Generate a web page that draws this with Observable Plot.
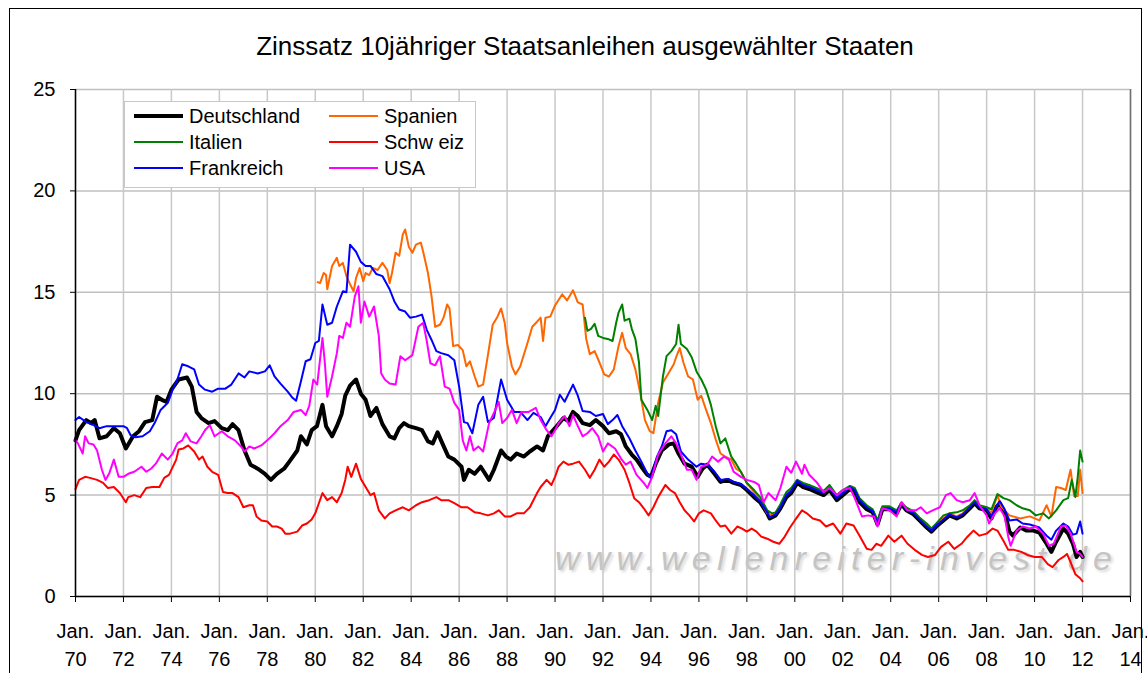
<!DOCTYPE html>
<html>
<head>
<meta charset="utf-8">
<script src="https://cdn.jsdelivr.net/npm/d3@7"></script>
<script src="https://cdn.jsdelivr.net/npm/@observablehq/plot@0.6"></script>
<style>
  html, body { margin: 0; padding: 0; background: #fff; }
  body { width: 1147px; height: 673px; overflow: hidden; position: relative; font-family: "Liberation Sans", Arial, sans-serif; }
  #frame { position: absolute; left: 9px; top: 8px; width: 1133px; height: 700px; border: 1px solid #000; box-sizing: border-box; z-index: 5; pointer-events: none; }
  #title { position: absolute; left: 0; top: 31px; width: 1170px; text-align: center; font-size: 26px; color: #000; z-index: 3; }
  #wm { position: absolute; left: 555px; top: 539px; font-size: 34px; font-style: italic; letter-spacing: 6.2px; color: #c4c4c4; text-shadow: 2px 2px 3px #d8d8d8; z-index: 0; white-space: nowrap; }
  #chart { position: absolute; left: 0; top: 0; z-index: 1; }
  #legend { position: absolute; left: 124px; top: 101px; width: 352px; height: 87px; border: 1px solid #c8c8c8; background: #fff; box-sizing: border-box; z-index: 4; }
  .item { position: absolute; font-size: 20px; line-height: 20px; color: #000; white-space: nowrap; }
  .item svg { position: absolute; left: 0; top: 0; }
  .item span { position: absolute; top: 0; }
</style>
</head>
<body>
<div id="frame"></div>
<div id="wm">www.wellenreiter-invest.de</div>
<div id="chart"></div>
<div id="title">Zinssatz 10jähriger Staatsanleihen ausgewählter Staaten</div>
<div id="legend"></div>
<script>
// ---- Data (decimal year, yield in %) ----
const deT = [1970.0,1970.15,1970.45,1970.65,1970.8,1971.0,1971.3,1971.6,1971.85,1972.1,1972.4,1972.65,1972.9,1973.2,1973.4,1973.6,1973.8,1974.0,1974.3,1974.65,1974.85,1975.05,1975.25,1975.55,1975.8,1976.1,1976.35,1976.55,1976.8,1977.05,1977.3,1977.6,1977.9,1978.15,1978.4,1978.7,1978.95,1979.25,1979.4,1979.65,1979.85,1980.07,1980.3,1980.45,1980.7,1980.9,1981.1,1981.25,1981.45,1981.7,1981.9,1982.1,1982.3,1982.55,1982.8,1983.1,1983.3,1983.5,1983.7,1983.9,1984.2,1984.45,1984.7,1984.9,1985.1,1985.3,1985.55,1985.8,1986.1,1986.2,1986.4,1986.65,1986.9,1987.25,1987.45,1987.75,1987.95,1988.15,1988.4,1988.7,1988.95,1989.25,1989.5,1989.7,1990.0,1990.35,1990.55,1990.75,1990.95,1991.15,1991.45,1991.7,1992.0,1992.25,1992.55,1992.75,1992.95,1993.2,1993.4,1993.6,1993.85,1994.0,1994.2,1994.45,1994.75,1994.95,1995.15,1995.4,1995.7,1995.95,1996.15,1996.35,1996.65,1996.9,1997.2,1997.45,1997.75,1998.0,1998.3,1998.55,1998.85,1998.95,1999.2,1999.4,1999.65,1999.85,2000.1,2000.35,2000.6,2000.9,2001.2,2001.45,2001.75,2002.0,2002.3,2002.5,2002.7,2003.0,2003.25,2003.45,2003.65,2003.95,2004.25,2004.45,2004.65,2004.95,2005.2,2005.5,2005.7,2005.9,2006.2,2006.45,2006.75,2007.0,2007.3,2007.5,2007.7,2008.0,2008.2,2008.4,2008.55,2008.75,2008.95,2009.1,2009.4,2009.65,2009.95,2010.2,2010.5,2010.7,2010.9,2011.2,2011.4,2011.6,2011.75,2011.9,2012.0];
const deV = [7.7,8.2,8.7,8.55,8.7,7.8,7.9,8.3,8.05,7.3,7.9,8.15,8.6,8.7,9.85,9.7,9.6,10.2,10.7,10.8,10.35,9.1,8.8,8.55,8.65,8.3,8.2,8.5,8.2,7.2,6.5,6.3,6.05,5.75,6.05,6.3,6.7,7.2,7.9,7.5,8.2,8.4,9.45,8.4,7.9,8.4,9.0,9.9,10.4,10.7,10.0,9.7,8.9,9.3,8.5,7.9,7.8,8.3,8.55,8.4,8.3,8.2,7.65,7.55,8.1,7.55,6.9,6.75,6.4,5.75,6.25,6.05,6.4,5.75,6.25,7.2,6.9,6.75,7.05,6.9,7.15,7.4,7.2,7.9,8.3,8.8,8.65,9.1,8.9,8.55,8.45,8.7,8.4,8.05,8.15,8.0,7.4,7.0,6.75,6.4,6.0,5.9,6.55,7.2,7.5,7.55,7.05,6.55,6.4,5.9,6.3,6.5,6.05,5.65,5.75,5.6,5.5,5.25,4.9,4.65,4.1,3.85,4.0,4.35,4.9,5.1,5.6,5.4,5.3,5.15,5.0,5.25,4.75,5.0,5.3,5.15,4.65,4.3,4.15,3.55,4.3,4.3,4.1,4.55,4.25,4.05,3.75,3.4,3.2,3.45,3.75,4.0,3.85,4.0,4.35,4.6,4.35,4.25,3.85,4.4,4.6,4.15,3.2,3.0,3.4,3.25,3.25,3.15,2.6,2.2,2.7,3.35,3.1,2.6,1.95,2.2,1.95];

const esT = [1980.1,1980.2,1980.35,1980.45,1980.5,1980.7,1980.9,1981.0,1981.15,1981.3,1981.45,1981.6,1981.7,1981.85,1982.0,1982.1,1982.25,1982.4,1982.6,1982.8,1983.0,1983.1,1983.2,1983.35,1983.5,1983.65,1983.75,1983.9,1984.05,1984.2,1984.4,1984.5,1984.7,1984.85,1985.0,1985.2,1985.35,1985.5,1985.6,1985.75,1985.95,1986.15,1986.3,1986.45,1986.65,1986.8,1987.0,1987.2,1987.4,1987.6,1987.75,1987.9,1988.0,1988.2,1988.35,1988.55,1988.85,1989.05,1989.25,1989.4,1989.5,1989.6,1989.8,1990.0,1990.3,1990.5,1990.75,1990.95,1991.15,1991.3,1991.45,1991.65,1991.85,1992.05,1992.25,1992.45,1992.65,1992.8,1992.95,1993.15,1993.35,1993.55,1993.75,1993.95,1994.1,1994.3,1994.5,1994.75,1994.95,1995.05,1995.2,1995.35,1995.55,1995.75,1995.95,1996.1,1996.3,1996.5,1996.7,1996.9,1997.1,1997.35,1997.55,1997.75,1998.0,1998.3,1998.55,1998.85,1999.0,1999.2,1999.4,1999.65,1999.85,2000.1,2000.35,2000.6,2000.9,2001.2,2001.45,2001.75,2002.0,2002.3,2002.5,2002.7,2003.0,2003.25,2003.45,2003.65,2003.95,2004.25,2004.45,2004.65,2004.95,2005.2,2005.5,2005.7,2005.9,2006.2,2006.45,2006.75,2007.0,2007.3,2007.5,2007.7,2008.0,2008.2,2008.45,2008.6,2008.95,2009.4,2009.8,2010.2,2010.5,2010.7,2010.9,2011.1,2011.3,2011.5,2011.65,2011.8,2011.9,2012.0];
const esV = [15.5,15.45,15.95,15.85,15.15,16.3,16.7,16.3,16.45,15.8,15.4,15.05,15.7,16.2,15.55,15.95,15.85,16.2,16.1,16.45,16.1,15.45,15.95,16.95,16.8,17.85,18.1,17.25,16.95,17.35,17.45,17.0,15.95,14.8,13.3,13.4,13.75,14.4,14.2,12.35,12.4,12.15,11.35,11.6,10.85,10.35,10.45,11.9,13.4,13.8,14.2,13.5,12.5,11.35,10.95,11.35,12.5,13.3,13.55,13.75,12.6,13.75,13.8,14.35,14.9,14.6,15.1,14.5,14.4,12.7,11.95,12.1,11.55,10.95,10.85,11.2,12.35,13.0,12.25,11.95,11.2,10.05,8.7,8.15,8.05,9.55,10.55,11.05,11.45,11.8,12.25,11.55,10.85,10.7,9.7,9.9,9.2,8.55,7.75,7.05,6.9,6.75,6.3,6.15,5.6,5.15,4.75,4.1,4.0,4.1,4.5,5.1,5.3,5.75,5.55,5.45,5.3,5.15,5.4,4.9,5.15,5.45,5.3,4.8,4.45,4.25,3.65,4.4,4.4,4.2,4.65,4.35,4.15,3.85,3.5,3.3,3.55,3.85,4.1,3.95,4.1,4.45,4.7,4.45,4.4,4.1,5.0,4.45,4.0,3.85,3.95,3.75,4.5,3.95,5.4,5.35,5.25,6.25,4.95,4.95,6.25,5.1];

const itT = [1991.25,1991.35,1991.5,1991.65,1991.8,1992.0,1992.2,1992.4,1992.55,1992.65,1992.8,1992.9,1993.1,1993.2,1993.35,1993.5,1993.6,1993.85,1994.05,1994.2,1994.3,1994.5,1994.65,1994.85,1995.05,1995.15,1995.25,1995.5,1995.7,1995.9,1996.1,1996.3,1996.5,1996.7,1996.9,1997.1,1997.35,1997.55,1997.75,1998.0,1998.3,1998.55,1998.85,1999.05,1999.2,1999.4,1999.65,1999.85,2000.1,2000.35,2000.6,2000.9,2001.2,2001.45,2001.75,2002.0,2002.3,2002.5,2002.7,2003.0,2003.25,2003.45,2003.65,2003.95,2004.25,2004.45,2004.65,2004.95,2005.2,2005.5,2005.7,2005.9,2006.2,2006.45,2006.75,2007.0,2007.3,2007.5,2007.7,2008.0,2008.2,2008.45,2008.7,2008.95,2009.25,2009.5,2009.8,2010.05,2010.35,2010.6,2010.9,2011.2,2011.4,2011.55,2011.7,2011.8,2011.9,2012.0];
const itV = [13.75,13.1,13.2,13.45,12.85,12.75,12.7,12.6,13.5,14.0,14.4,13.6,13.7,13.2,12.7,11.55,9.7,9.2,8.7,9.4,8.9,10.85,11.85,12.1,12.45,13.4,12.45,12.2,11.8,11.1,10.7,10.2,9.45,8.4,7.55,7.8,6.9,6.55,6.15,5.6,5.25,4.9,4.25,4.1,4.15,4.55,5.15,5.35,5.75,5.6,5.5,5.35,5.2,5.5,5.0,5.25,5.45,5.35,4.85,4.5,4.3,3.75,4.45,4.45,4.25,4.6,4.4,4.2,3.9,3.6,3.35,3.6,4.0,4.1,4.15,4.25,4.5,4.75,4.5,4.4,4.3,5.05,4.85,4.75,4.5,4.35,4.25,4.0,4.1,3.85,4.25,4.75,4.85,5.75,4.9,5.9,7.2,6.65];

const chT = [1970.0,1970.15,1970.4,1970.6,1970.9,1971.15,1971.35,1971.6,1971.85,1972.1,1972.2,1972.45,1972.7,1972.95,1973.2,1973.5,1973.7,1973.9,1974.2,1974.3,1974.5,1974.7,1974.95,1975.15,1975.3,1975.5,1975.7,1975.95,1976.15,1976.35,1976.55,1976.8,1977.0,1977.25,1977.4,1977.55,1977.75,1978.0,1978.2,1978.4,1978.6,1978.75,1978.95,1979.25,1979.45,1979.65,1979.85,1980.0,1980.15,1980.3,1980.5,1980.7,1980.9,1981.1,1981.25,1981.35,1981.5,1981.7,1981.9,1982.1,1982.3,1982.45,1982.65,1982.9,1983.1,1983.35,1983.65,1983.9,1984.2,1984.45,1984.75,1985.05,1985.25,1985.55,1985.8,1986.1,1986.35,1986.65,1986.9,1987.2,1987.45,1987.65,1987.9,1988.15,1988.4,1988.7,1988.95,1989.25,1989.4,1989.65,1989.85,1990.0,1990.15,1990.35,1990.55,1990.75,1991.0,1991.25,1991.45,1991.65,1991.85,1992.05,1992.25,1992.45,1992.65,1992.9,1993.1,1993.3,1993.5,1993.7,1993.9,1994.1,1994.3,1994.6,1994.8,1995.0,1995.2,1995.4,1995.6,1995.8,1996.0,1996.2,1996.5,1996.7,1996.9,1997.1,1997.35,1997.6,1997.8,1998.0,1998.2,1998.4,1998.6,1998.85,1999.1,1999.35,1999.55,1999.8,2000.0,2000.3,2000.5,2000.75,2001.05,2001.3,2001.6,2001.9,2002.15,2002.45,2002.7,2003.0,2003.2,2003.4,2003.6,2003.9,2004.15,2004.45,2004.7,2005.0,2005.3,2005.55,2005.85,2006.1,2006.4,2006.65,2006.95,2007.2,2007.45,2007.7,2008.0,2008.25,2008.45,2008.7,2008.9,2009.15,2009.45,2009.7,2010.0,2010.3,2010.55,2010.75,2011.0,2011.2,2011.35,2011.5,2011.7,2011.9,2012.0];
const chV = [5.3,5.75,5.9,5.85,5.75,5.6,5.35,5.4,5.1,4.65,4.9,5.0,4.9,5.35,5.4,5.4,5.85,6.0,6.75,7.25,7.3,7.45,7.15,6.75,6.9,6.4,6.15,6.0,5.15,5.1,5.1,4.9,4.4,4.5,4.5,3.95,3.75,3.7,3.45,3.45,3.35,3.1,3.1,3.2,3.5,3.6,3.8,4.1,4.6,5.1,4.75,4.9,4.65,5.1,5.75,6.4,5.9,6.55,5.8,5.4,5.0,5.1,4.25,3.85,4.1,4.25,4.4,4.25,4.5,4.65,4.75,4.9,4.75,4.75,4.6,4.4,4.4,4.15,4.1,4.0,4.1,4.25,3.95,3.95,4.1,4.1,4.4,5.1,5.4,5.75,5.5,5.9,6.4,6.65,6.5,6.55,6.65,6.25,5.85,6.25,6.75,6.4,6.65,7.0,6.75,6.25,5.6,4.85,4.65,4.35,4.0,4.4,4.9,5.5,5.25,5.1,4.65,4.25,4.0,3.7,4.1,4.25,4.1,3.75,3.45,3.5,3.1,3.45,3.35,3.2,3.35,3.2,2.95,2.85,2.7,2.6,2.9,3.4,3.75,4.25,4.1,3.85,3.75,3.45,3.6,3.1,3.6,3.5,3.0,2.35,2.3,2.6,2.5,3.0,2.7,3.0,2.6,2.3,2.05,1.95,2.05,2.45,2.7,2.35,2.6,2.95,3.25,3.0,3.1,3.35,3.25,2.75,2.3,2.3,2.2,2.05,1.95,1.95,1.6,1.45,1.8,1.95,2.1,1.7,1.1,0.9,0.75];

const frT = [1970.0,1970.15,1970.45,1970.75,1971.0,1971.3,1971.6,1972.0,1972.15,1972.3,1972.5,1972.8,1973.1,1973.3,1973.55,1973.85,1974.05,1974.25,1974.45,1974.7,1974.95,1975.15,1975.4,1975.7,1975.95,1976.25,1976.5,1976.8,1977.05,1977.25,1977.6,1977.9,1978.1,1978.3,1978.55,1978.85,1979.05,1979.2,1979.4,1979.6,1979.8,1980.0,1980.15,1980.3,1980.5,1980.7,1980.9,1981.15,1981.3,1981.45,1981.7,1981.9,1982.1,1982.3,1982.55,1982.8,1983.1,1983.3,1983.5,1983.75,1983.95,1984.2,1984.45,1984.65,1984.85,1985.05,1985.25,1985.55,1985.8,1986.0,1986.2,1986.35,1986.55,1986.8,1987.0,1987.2,1987.45,1987.75,1988.0,1988.3,1988.55,1988.85,1989.1,1989.4,1989.6,1989.8,1990.0,1990.2,1990.4,1990.75,1990.95,1991.15,1991.45,1991.7,1992.0,1992.2,1992.4,1992.6,1992.8,1993.1,1993.35,1993.6,1993.85,1994.0,1994.25,1994.45,1994.65,1994.85,1995.05,1995.25,1995.55,1995.9,1996.1,1996.35,1996.65,1996.9,1997.2,1997.45,1997.75,1998.0,1998.3,1998.55,1998.85,1998.95,1999.2,1999.4,1999.65,1999.85,2000.1,2000.35,2000.6,2000.9,2001.2,2001.45,2001.75,2002.0,2002.3,2002.5,2002.7,2003.0,2003.25,2003.45,2003.65,2003.95,2004.25,2004.45,2004.65,2004.95,2005.2,2005.5,2005.7,2005.9,2006.2,2006.45,2006.75,2007.0,2007.3,2007.5,2007.7,2008.0,2008.2,2008.4,2008.55,2008.75,2008.95,2009.25,2009.5,2009.8,2010.2,2010.5,2010.7,2010.9,2011.2,2011.4,2011.6,2011.75,2011.9,2012.0];
const frV = [8.7,8.85,8.6,8.45,8.3,8.4,8.4,8.4,8.3,7.95,7.85,7.9,8.15,8.55,9.2,9.55,10.2,10.7,11.45,11.35,11.2,10.45,10.2,10.1,10.25,10.25,10.45,11.0,10.8,11.1,11.0,11.1,11.4,10.85,10.5,10.1,9.8,9.65,10.6,11.6,11.7,12.5,12.6,14.4,13.4,13.5,14.3,15.05,15.0,17.35,17.0,16.5,16.3,16.3,15.9,15.8,15.15,14.55,14.15,14.05,13.75,13.8,13.9,13.15,12.65,12.1,12.0,11.9,11.65,10.35,8.6,8.55,8.05,9.45,9.85,8.6,8.8,10.7,9.7,9.1,9.1,8.7,9.05,8.85,8.4,8.8,9.2,9.95,9.6,10.45,9.9,9.15,9.1,8.9,9.0,8.5,8.7,8.95,8.4,7.8,7.2,6.65,6.05,5.85,6.9,7.4,8.15,8.2,8.0,7.15,6.75,6.4,6.55,6.5,6.15,5.75,5.8,5.65,5.55,5.3,5.0,4.7,4.15,3.9,4.05,4.4,5.0,5.2,5.7,5.5,5.4,5.25,5.1,5.35,4.85,5.1,5.4,5.25,4.75,4.4,4.2,3.6,4.35,4.35,4.15,4.6,4.3,4.1,3.8,3.45,3.25,3.5,3.8,4.05,3.9,4.05,4.4,4.65,4.4,4.3,3.95,4.45,4.7,4.3,3.75,3.8,3.6,3.55,3.4,3.0,2.8,3.25,3.6,3.45,3.05,3.1,3.7,3.1];

const usT = [1970.0,1970.1,1970.3,1970.4,1970.55,1970.75,1970.9,1971.1,1971.25,1971.4,1971.6,1971.8,1972.0,1972.2,1972.45,1972.75,1972.95,1973.15,1973.35,1973.6,1973.85,1974.05,1974.25,1974.45,1974.6,1974.8,1975.05,1975.25,1975.4,1975.6,1975.8,1976.1,1976.35,1976.65,1976.9,1977.05,1977.25,1977.45,1977.75,1978.0,1978.3,1978.55,1978.85,1979.1,1979.4,1979.6,1979.75,1979.92,1980.08,1980.3,1980.4,1980.5,1980.7,1980.9,1981.0,1981.15,1981.3,1981.45,1981.65,1981.8,1981.9,1982.05,1982.25,1982.45,1982.65,1982.75,1982.9,1983.1,1983.35,1983.55,1983.75,1984.05,1984.3,1984.5,1984.65,1984.8,1985.0,1985.2,1985.4,1985.6,1985.8,1986.0,1986.15,1986.3,1986.45,1986.6,1986.8,1987.0,1987.25,1987.45,1987.65,1987.8,1988.0,1988.2,1988.4,1988.6,1988.9,1989.2,1989.4,1989.65,1989.85,1990.0,1990.15,1990.4,1990.6,1990.75,1990.95,1991.15,1991.35,1991.55,1991.8,1992.0,1992.2,1992.5,1992.75,1992.95,1993.15,1993.4,1993.7,1993.85,1994.05,1994.3,1994.6,1994.85,1995.05,1995.25,1995.5,1995.7,1995.9,1996.1,1996.35,1996.55,1996.8,1997.05,1997.25,1997.45,1997.75,1998.0,1998.3,1998.5,1998.7,1998.9,1999.2,1999.4,1999.65,1999.85,2000.05,2000.3,2000.4,2000.6,2000.9,2001.2,2001.45,2001.75,2002.0,2002.3,2002.5,2002.8,2003.05,2003.3,2003.45,2003.65,2003.95,2004.25,2004.45,2004.7,2005.05,2005.25,2005.5,2005.75,2006.05,2006.3,2006.5,2006.75,2007.0,2007.3,2007.5,2007.7,2008.0,2008.1,2008.35,2008.55,2008.75,2008.9,2009.0,2009.25,2009.5,2009.8,2010.05,2010.35,2010.6,2010.8,2011.1,2011.3,2011.5,2011.75,2011.9,2012.0];
const usV = [7.7,7.55,7.05,7.9,7.55,7.5,7.2,6.25,5.75,6.05,6.75,5.9,5.9,6.05,6.15,6.4,6.15,6.3,6.55,7.05,6.75,7.05,7.55,7.7,8.05,7.65,7.55,7.9,8.2,8.45,7.9,8.15,7.9,7.7,7.4,7.15,7.4,7.3,7.45,7.7,8.05,8.4,8.7,9.1,9.2,8.95,9.4,10.7,10.45,12.75,11.5,9.85,10.85,12.0,12.85,12.75,13.5,13.3,14.8,15.3,13.5,14.55,13.8,14.3,12.85,11.0,10.7,10.5,10.45,11.85,11.65,11.9,13.3,13.5,12.6,11.5,11.4,11.85,10.35,10.25,9.55,9.2,7.7,7.2,7.9,7.2,7.4,7.15,8.55,9.05,9.6,8.55,8.8,9.2,8.55,9.1,9.1,9.3,8.7,8.2,7.9,8.2,8.55,8.9,8.4,8.95,8.4,7.9,8.05,8.3,7.9,7.15,7.55,7.3,6.8,6.5,6.65,6.0,5.6,5.35,5.9,7.0,7.55,7.9,7.55,7.0,6.25,6.25,5.75,6.4,6.5,6.9,6.65,6.9,6.75,6.15,5.9,5.75,5.65,5.5,4.65,5.1,4.75,5.35,6.4,6.1,6.65,6.05,6.5,6.0,5.65,5.15,5.35,5.0,5.25,5.35,4.85,3.95,4.0,3.95,3.45,4.35,4.25,3.95,4.65,4.25,4.25,4.4,4.1,4.25,4.4,5.0,5.1,4.75,4.65,4.75,5.1,4.5,4.0,3.6,4.1,4.35,3.95,2.95,2.5,3.25,3.45,3.35,3.45,3.1,2.5,2.6,3.45,3.5,3.1,2.2,2.1,1.95];

const seriesNames = ["Deutschland", "Spanien", "Italien", "Schw eiz", "Frankreich", "USA"];
const seriesColors = ["#000000", "#FF6600", "#008000", "#FF0000", "#0000FF", "#FF00FF"];
const seriesWidths = [4, 2, 2, 2, 2, 2];
const yTicks = [0, 5, 10, 15, 20, 25];
const xTicks = [1970,1972,1974,1976,1978,1980,1982,1984,1986,1988,1990,1992,1994,1996,1998,2000,2002,2004,2006,2008,2010,2012,2014];

const seriesT = [deT, esT, itT, chT, frT, usT];
const seriesV = [deV, esV, itV, chV, frV, usV];
const series = seriesT.map((ts, i) => ts.map((t, j) => ({t, v: seriesV[i][j]})));

const lineMarks = series.map((d, i) =>
  Plot.line(d, {x: "t", y: "v", stroke: seriesColors[i], strokeWidth: seriesWidths[i], strokeLinejoin: "round", strokeLinecap: "round"})
);

const chart = Plot.plot({
  width: 1147,
  height: 673,
  marginLeft: 75,
  marginRight: 17,
  marginTop: 89,
  marginBottom: 77,
  style: {background: "transparent", fontFamily: "'Liberation Sans', Arial, sans-serif", color: "#000"},
  x: {domain: [1970, 2014], type: "linear"},
  y: {domain: [0, 25]},
  marks: [
    Plot.gridY(yTicks, {stroke: "#c0c0c0", strokeOpacity: 1, strokeWidth: 1.5}),
    Plot.gridX(xTicks, {stroke: "#c8c8c8", strokeOpacity: 1, strokeWidth: 1.5}),
    Plot.ruleX([2014], {stroke: "#707070", strokeWidth: 1.5}),
    ...lineMarks,
    Plot.ruleX([1970], {stroke: "#000", strokeWidth: 1.5}),
    Plot.ruleY([0], {stroke: "#000", strokeWidth: 1.5}),
    Plot.axisY(yTicks, {tickSize: 5, tickPadding: 15, fontSize: 20, label: null, stroke: "#000"}),
    Plot.axisX(xTicks, {
      tickSize: 6, tickPadding: 15, fontSize: 20, lineHeight: 1.42, label: null, stroke: "#000",
      tickFormat: d => "Jan.\n" + String(d % 100).padStart(2, "0")
    })
  ]
});
document.getElementById("chart").appendChild(chart);

// ---- Legend ----
const legend = document.getElementById("legend");
const legendPos = [[9, 4], [204, 4], [9, 30], [204, 30], [9, 56], [204, 56]];
seriesNames.forEach((name, si) => {
  const [lx, ly] = legendPos[si];
  const item = document.createElement("div");
  item.className = "item";
  item.style.left = lx + "px";
  item.style.top = ly + "px";
  item.innerHTML = `<svg width="50" height="20"><line x1="0" y1="10" x2="49" y2="10" stroke="${seriesColors[si]}" stroke-width="${seriesWidths[si] === 4 ? 4 : 2}" /></svg><span style="left:55px">${name}</span>`;
  legend.appendChild(item);
});
</script>
</body>
</html>
